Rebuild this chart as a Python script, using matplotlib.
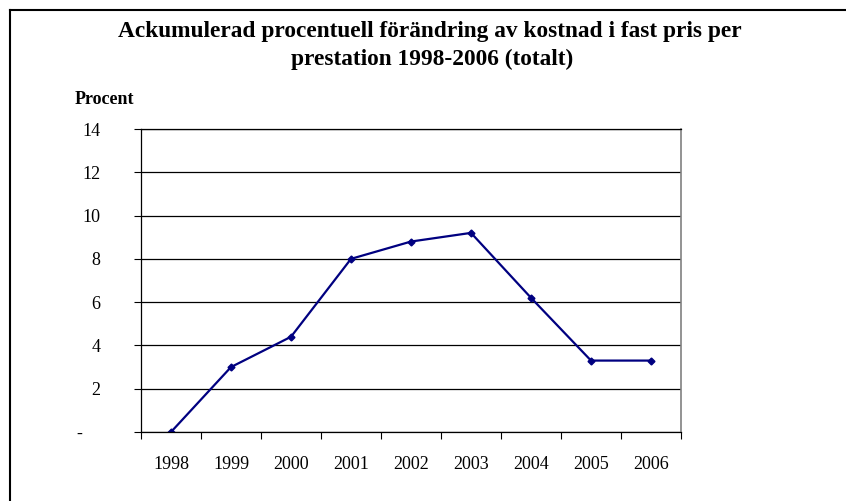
import matplotlib.pyplot as plt
from matplotlib.lines import Line2D

# Data
years = ['1998', '1999', '2000', '2001', '2002', '2003', '2004', '2005', '2006']
values = [0.0, 3.0, 4.4, 8.0, 8.8, 9.2, 6.2, 3.3, 3.3]
yticks = [0, 2, 4, 6, 8, 10, 12, 14]
ytick_labels = ['-    ', '2', '4', '6', '8', '10', '12', '14']

plt.rcParams['font.family'] = ['Liberation Serif', 'DejaVu Serif']

W, H = 846, 501
fig = plt.figure(figsize=(W / 100, H / 100), dpi=100)

# plot area in pixels: left 141, right 681, top 129, bottom 432
ax = fig.add_axes([141 / W, 1 - 432 / H, (681 - 141) / W, (432 - 129) / H])

x = range(len(years))
ax.plot(x, values, color='#000080', lw=1.6, marker='D', ms=3.5)

ax.set_xlim(-0.5, len(years) - 0.5)
ax.set_ylim(0, 14)
ax.set_yticks(yticks)
ax.set_yticklabels(ytick_labels)
ax.set_xticks(list(x))
ax.set_xticklabels(years)
ax.set_xticks([i - 0.5 for i in range(len(years) + 1)], minor=True)
ax.tick_params(axis='x', which='major', length=0, pad=17, labelsize=13)
ax.tick_params(axis='x', which='minor', length=5, width=0.8, direction='out')
ax.tick_params(axis='y', length=5, width=0.8, direction='out', pad=24, labelsize=13)

ax.yaxis.grid(True, color='black', lw=0.9)
ax.set_axisbelow(True)
for s in ['left', 'bottom']:
    ax.spines[s].set_color('black')
    ax.spines[s].set_linewidth(0.9)
ax.spines['right'].set_color('#808080')
ax.spines['right'].set_linewidth(1.2)
ax.spines['top'].set_color('black')
ax.spines['top'].set_linewidth(0.9)

fig.text(430 / W, 1 - 32 / H, 'Ackumulerad procentuell förändring av kostnad i fast pris per',
         ha='center', va='center', fontsize=16.8, fontweight='bold')
fig.text(432 / W, 1 - 59 / H, 'prestation 1998-2006 (totalt)',
         ha='center', va='center', fontsize=16.8, fontweight='bold')
fig.text(75 / W, 1 - 100 / H, 'Procent', ha='left', va='center',
         fontsize=13, fontweight='bold')

# outer frame (left and top edges only visible)
fig.add_artist(Line2D([10 / W, 10 / W], [0, 1 - 10 / H], color='black', lw=1.5,
                      transform=fig.transFigure))
fig.add_artist(Line2D([10 / W, 1], [1 - 10 / H, 1 - 10 / H], color='black', lw=1.5,
                      transform=fig.transFigure))

fig.savefig('out.png', dpi=100)
